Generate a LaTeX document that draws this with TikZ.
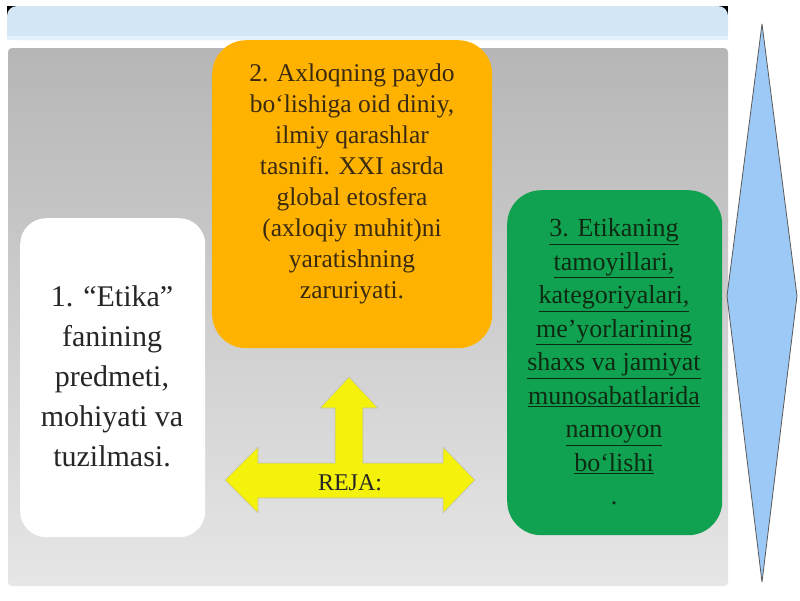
\documentclass[tikz,border=0pt]{standalone}
\usepackage{fontspec}
\setmainfont{Liberation Serif}
\newfontfamily\tnr{Liberation Serif}
\begin{document}
\begin{tikzpicture}[x=1pt,y=-1pt,
  card/.style={rounded corners=#1, inner sep=0pt, align=center, anchor=north west}]
\definecolor{bandcol}{HTML}{D3E6F6}
\definecolor{panelTop}{HTML}{B6B6B6}
\definecolor{panelBot}{HTML}{E6E6E6}
\definecolor{orangebox}{HTML}{FFB300}
\definecolor{greenbox}{HTML}{10A250}
\definecolor{arrowyel}{HTML}{F4F20A}
\definecolor{diamondfill}{HTML}{9DC9F6}
\definecolor{browntext}{HTML}{3A2A10}
\definecolor{greentext}{HTML}{0E2A12}
\useasboundingbox (0,0) rectangle (800,600);
\fill[white] (0,0) rectangle (800,600);
% top band
\fill[black] (7,6) rectangle (728,16);
\fill[bandcol, rounded corners=10pt] (7,6) rectangle (728,40);
\fill[bandcol] (7,25) rectangle (728,38);
\fill[bandcol!60!white] (7,36) rectangle (728,40);
% gray panel
\shade[top color=panelTop, bottom color=panelBot, rounded corners=4pt] (8,48) rectangle (728,586);
% white box
\node[card=26pt, fill=white, minimum width=185pt, minimum height=319pt]
      (etika) at (20,218) {};
\node[font=\tnr\fontsize{30}{40}\selectfont, text=black!85, align=center]
      (etikatxt) at (112,376) {1. “Etika”\\fanining\\predmeti,\\mohiyati va\\tuzilmasi.};
% orange box
\node[card=34pt, fill=orangebox, minimum width=280pt, minimum height=308pt]
      (axloq) at (212,40) {};
\node[font=\tnr\fontsize{25.5}{31}\selectfont, text=browntext, align=center]
      (axloqtxt) at (352,184) {2. Axloqning paydo\\bo‘lishiga oid diniy,\\ilmiy qarashlar\\tasnifi. XXI asrda\\global etosfera\\(axloqiy muhit)ni\\yaratishning\\zaruriyati.};
% green box
\node[card=34pt, fill=greenbox, minimum width=215pt, minimum height=345pt]
      (tamoyil) at (507,190) {};
\node[font=\tnr\fontsize{26}{33.5}\selectfont, text=greentext, align=center]
      (tamoyiltxt) at (614,362) {\underline{3. Etikaning}\\\underline{tamoyillari,}\\\underline{kategoriyalari,}\\\underline{me’yorlarining}\\\underline{shaxs va jamiyat}\\\underline{munosabatlarida}\\\underline{namoyon}\\\underline{bo‘lishi}\\.};
% yellow arrow
\fill[arrowyel, draw=black!25, line width=0.6pt, line join=round]
  (225,480) -- (258,447) -- (258,463) -- (335,463) -- (335,408) -- (320,408)
  -- (349,377) -- (378,408) -- (363,408) -- (363,463) -- (443,463)
  -- (443,447) -- (475,480) -- (443,513) -- (443,498) -- (258,498)
  -- (258,513) -- cycle;
\node[font=\tnr\fontsize{24}{26}\selectfont, text=black!85] (reja) at (350,483) {REJA:};
% diamond
\filldraw[fill=diamondfill, draw=black!65, line width=0.8pt, line join=round]
  (762,24) -- (797,296) -- (762,582) -- (727,296) -- cycle;
\end{tikzpicture}
\end{document}
